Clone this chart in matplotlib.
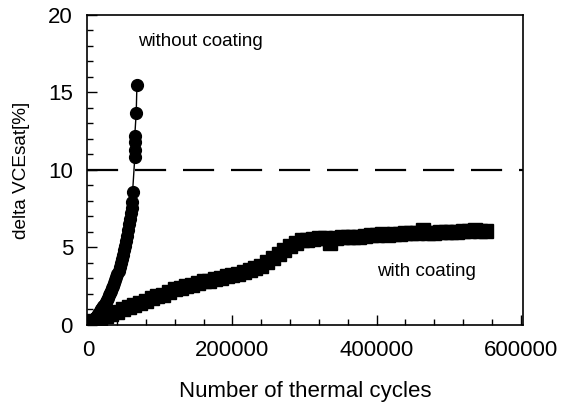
import matplotlib
matplotlib.use("Agg")
import matplotlib.pyplot as plt
from matplotlib.ticker import MultipleLocator

plt.rcParams['font.family'] = ['Liberation Sans', 'DejaVu Sans']

# without coating (circles)
cycles_wo = [0, 1500, 3000, 4500, 6000, 7500, 9000, 10500, 12000, 13500,
             15000, 16500, 18000, 19500, 21000, 22500, 24000, 25500, 27000, 28500,
             30000, 31500, 33000, 34500, 36000, 37500, 39000, 40500, 42000, 43500,
             45000, 46500, 48000, 49500, 51000, 52500, 54000, 55500, 57000, 58000,
             59000, 60000, 61000, 61500, 64500, 64500, 64500, 64500, 66500, 67500]
dv_wo = [0.10, 0.15, 0.20, 0.28, 0.33, 0.40, 0.45, 0.52, 0.60, 0.68,
         0.78, 0.88, 1.00, 1.10, 1.20, 1.32, 1.45, 1.60, 1.75, 1.90,
         2.05, 2.20, 2.35, 2.50, 2.70, 2.90, 3.10, 3.30, 3.50, 3.75,
         4.00, 4.25, 4.50, 4.80, 5.10, 5.40, 5.75, 6.10, 6.50, 6.85,
         7.20, 7.55, 7.90, 8.60, 10.8, 11.3, 11.8, 12.2, 13.7, 15.5]

# with coating (squares)
cycles_w = [0, 8000, 16000, 24000, 32000, 40000, 48000, 56000, 64000, 72000,
            80000, 88000, 96000, 104000, 112000, 120000, 128000, 136000, 144000, 152000,
            160000, 168000, 176000, 184000, 192000, 200000, 208000, 216000, 224000, 232000,
            240000, 248000, 256000, 264000, 272000, 280000, 288000, 296000, 304000, 312000,
            320000, 328000, 336000, 344000, 352000, 360000, 368000, 376000, 384000, 392000,
            400000, 408000, 416000, 424000, 432000, 440000, 448000, 456000, 464000, 472000,
            480000, 488000, 496000, 504000, 512000, 520000, 528000, 536000, 544000, 552000]
dv_w = [0.10, 0.25, 0.40, 0.55, 0.70, 0.85, 1.00, 1.15, 1.25, 1.40,
        1.55, 1.75, 1.85, 1.95, 2.15, 2.30, 2.35, 2.50, 2.55, 2.70,
        2.80, 2.85, 2.95, 3.05, 3.15, 3.20, 3.30, 3.40, 3.55, 3.65,
        3.80, 4.05, 4.30, 4.55, 4.80, 5.10, 5.30, 5.45, 5.50, 5.55,
        5.60, 5.60, 5.30, 5.60, 5.65, 5.65, 5.70, 5.70, 5.75, 5.80,
        5.80, 5.85, 5.80, 5.85, 5.85, 5.90, 5.90, 5.95, 6.15, 5.95,
        5.95, 6.00, 6.00, 6.00, 6.00, 6.05, 6.05, 6.10, 6.05, 6.05]

limit = 10

fig = plt.figure(figsize=(5.64, 4.04), dpi=100)
ax = fig.add_axes([0.154, 0.196, 0.773, 0.767])

ax.axhline(limit, color='black', lw=1.6, dashes=(14, 7.6))
ax.plot(cycles_w, dv_w, 's', color='black', ms=9.5, mec='black')
ax.plot(cycles_wo, dv_wo, '-o', color='black', lw=1, ms=8.5)

ax.set_xlim(-2000, 603000)
ax.set_ylim(0, 20)
ax.xaxis.set_major_locator(MultipleLocator(200000))
ax.xaxis.set_minor_locator(MultipleLocator(40000))
ax.yaxis.set_major_locator(MultipleLocator(5))
ax.yaxis.set_minor_locator(MultipleLocator(1))
ax.tick_params(which='both', direction='in', top=False, right=False, labelsize=16, width=1)
ax.tick_params(which='major', length=7)
ax.tick_params(axis='x', which='major', pad=11)
ax.tick_params(axis='y', which='major', pad=10)
ax.tick_params(which='minor', length=4)
for s in ax.spines.values():
    s.set_linewidth(1.2)

ax.set_xlabel('Number of thermal cycles', fontsize=16, labelpad=14)
ax.set_ylabel('delta VCEsat[%]', fontsize=13.7, labelpad=13)

ax.text(69600, 18.3, 'without coating', fontsize=13.5, va='center')
ax.text(400000, 3.44, 'with coating', fontsize=13.5, va='center')

fig.savefig('out.png', dpi=100)
